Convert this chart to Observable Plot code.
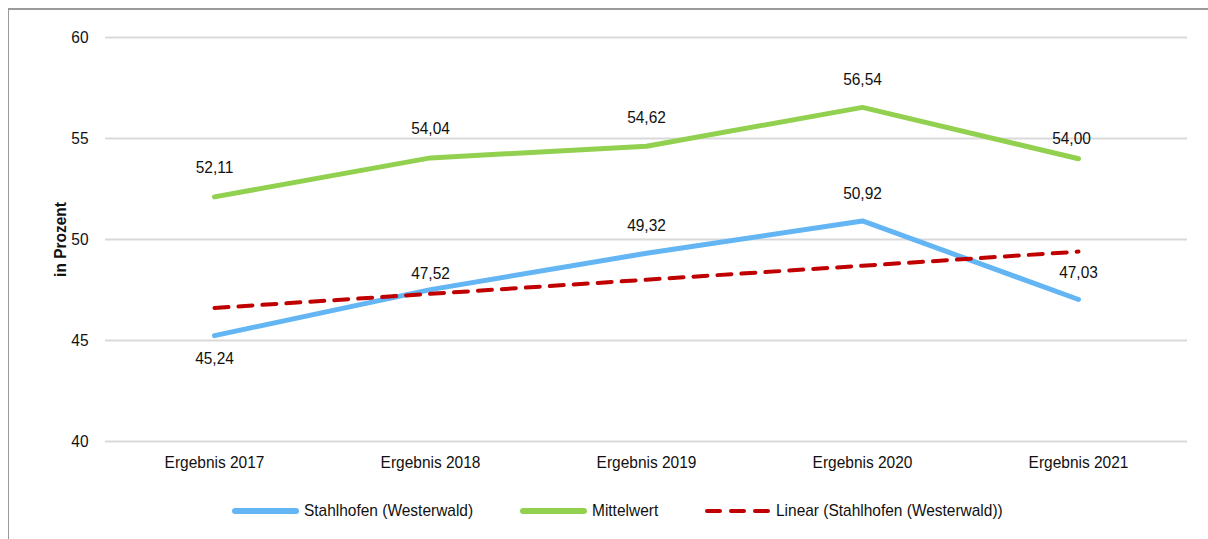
<!DOCTYPE html>
<html>
<head>
<meta charset="utf-8">
<script src="https://cdn.jsdelivr.net/npm/d3@7"></script>
<script src="https://cdn.jsdelivr.net/npm/@observablehq/plot@0.6"></script>
<style>
  html, body { margin: 0; padding: 0; background: #fff; }
  body { width: 1208px; height: 539px; position: relative; overflow: hidden;
         font-family: "Liberation Sans", Arial, sans-serif; }
  #frame { position: absolute; left: 8px; top: 8px; right: -10px; bottom: -10px;
           border-left: 1px solid #9a9a9a; border-top: 2px solid #9a9a9a; pointer-events: none; }
  #chart { position: absolute; left: 0; top: 0; }
  #legend { position: absolute; top: 499px; left: 0; width: 1208px; height: 24px; font-size: 17px; color: #111; }
  .item { position: absolute; top: 0; display: flex; align-items: center; height: 24px; }
  .sw { width: 67px; height: 0; margin-right: 5px; }
  .lt { display: inline-block; transform: scaleX(0.91); transform-origin: left center; white-space: nowrap; }
</style>
</head>
<body>
<div id="chart"></div>
<div id="legend"></div>
<div id="frame"></div>
<script>
const categories = ["Ergebnis 2017", "Ergebnis 2018", "Ergebnis 2019", "Ergebnis 2020", "Ergebnis 2021"];
const stahlhofen = [45.24, 47.52, 49.32, 50.92, 47.03];
const mittelwert = [52.11, 54.04, 54.62, 56.54, 54.00];
const linear = [46.61, 47.31, 48.01, 48.70, 49.40];
const yTicks = [40, 45, 50, 55, 60];
const seriesNames = ["Stahlhofen (Westerwald)", "Mittelwert", "Linear (Stahlhofen (Westerwald))"];
const colors = ["#64b5f3", "#92d050", "#c00000"];

const fmt = v => v.toFixed(2).replace(".", ",");
const rows = (vals) => categories.map((c, i) => ({cat: c, v: vals[i], i}));
const sRows = rows(stahlhofen), mRows = rows(mittelwert), lRows = rows(linear);

// label offsets (label placement relative to point)
const sDy = [23, -16, -28, -27, -27];
const mDy = [-29, -29, -29, -28, -20];
const mDx = [0, 0, 0, 0, -7];

const font = '"Liberation Sans", Arial, sans-serif';

const chart = Plot.plot({
  width: 1208,
  height: 482,
  marginLeft: 105,
  marginRight: 21,
  marginTop: 37,
  marginBottom: 41,
  style: {fontFamily: font, fontSize: "17px", color: "#111", background: "transparent", overflow: "visible"},
  x: {type: "point", domain: categories, padding: 0.5, label: null},
  y: {domain: [40, 60], ticks: yTicks, label: "in Prozent"},
  marks: [
    Plot.gridY(yTicks, {stroke: "#d9d9d9", strokeOpacity: 1, strokeWidth: 2}),
    Plot.axisY(yTicks, {tickSize: 0, tickPadding: 17, label: "in Prozent", labelAnchor: "center", labelArrow: "none", labelOffset: 52, fontSize: 17}),
    Plot.axisX({tickSize: 0, tickPadding: 14, label: null, fontSize: 17}),
    Plot.line(sRows, {x: "cat", y: "v", stroke: colors[0], strokeWidth: 5, strokeLinecap: "round", strokeLinejoin: "round"}),
    Plot.line(mRows, {x: "cat", y: "v", stroke: colors[1], strokeWidth: 5, strokeLinecap: "round", strokeLinejoin: "round"}),
    Plot.line(lRows, {x: "cat", y: "v", stroke: colors[2], strokeWidth: 4, strokeDasharray: "14 10", strokeLinecap: "round"}),
    ...sRows.map((d, k) => Plot.text([d], {x: "cat", y: "v", text: d => fmt(d.v), dy: sDy[k], fontSize: 17, fill: "#111"})),
    ...mRows.map((d, k) => Plot.text([d], {x: "cat", y: "v", text: d => fmt(d.v), dy: mDy[k], dx: mDx[k], fontSize: 17, fill: "#111"}))
  ]
});
// bold y label
chart.querySelectorAll("g[aria-label='y-axis label'] text, g[aria-label='y-axis label']").forEach(el => el.setAttribute("font-weight", "bold"));
document.getElementById("chart").appendChild(chart);

// condense all text (reference uses a narrow face)
chart.querySelectorAll("text").forEach(t => {
  const len = t.getComputedTextLength();
  if (len > 0) {
    t.setAttribute("textLength", (len * 0.91).toFixed(2));
    t.setAttribute("lengthAdjust", "spacingAndGlyphs");
  }
});

// Legend
const legend = document.getElementById("legend");
const lefts = [232, 520, 704];
seriesNames.forEach((name, i) => {
  const it = document.createElement("div");
  it.className = "item";
  it.style.left = lefts[i] + "px";
  const sw = document.createElement("div");
  sw.className = "sw";
  if (i < 2) {
    sw.style.borderTop = `6px solid ${colors[i]}`;
    sw.style.borderRadius = "3px";
  } else {
    sw.innerHTML = `<svg width="67" height="6" style="display:block;margin-top:-3px"><line x1="3" y1="3" x2="64" y2="3" stroke="${colors[i]}" stroke-width="4" stroke-dasharray="13 11" stroke-linecap="round"/></svg>`;
  }
  it.appendChild(sw);
  const t = document.createElement("span");
  t.className = "lt";
  t.textContent = name;
  it.appendChild(t);
  legend.appendChild(it);
});
</script>
</body>
</html>
